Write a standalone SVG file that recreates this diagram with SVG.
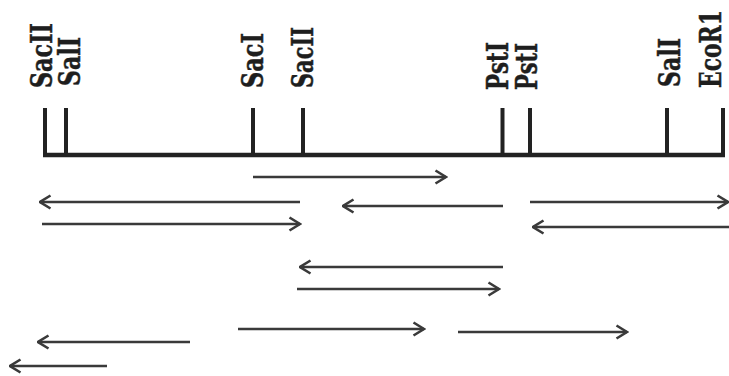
<svg xmlns="http://www.w3.org/2000/svg" width="729" height="376" viewBox="0 0 729 376">
<style>
.lbl{font-family:"DejaVu Serif","Liberation Serif",serif;font-weight:bold;font-size:30px;fill:#1e1e1e;stroke:#1e1e1e;stroke-width:0.5}
.tick{stroke:#222;stroke-width:4;fill:none}
.axis{stroke:#222;stroke-width:4.5;fill:none}
.arr{stroke:#3a3a3a;stroke-width:2.4;fill:none;marker-end:url(#head)}
</style>
<defs>
<marker id="head" markerUnits="userSpaceOnUse" viewBox="0 0 14 16" refX="12.5" refY="8" markerWidth="14" markerHeight="16" orient="auto">
<path d="M2,1.5 L12.5,8 L2,14.5" fill="none" stroke="#3a3a3a" stroke-width="2.6" stroke-linejoin="miter"/>
</marker>
</defs>
<rect width="729" height="376" fill="#fff"/>
<g id="map">
<path class="axis" d="M43,155 H725"/>
</g>
<g id="site-sacII-1"><path class="tick" d="M45,108 V155"/><text class="lbl" transform="translate(52,88) rotate(-90)" textLength="65" lengthAdjust="spacingAndGlyphs">SacII</text></g>
<g id="site-salI-1"><path class="tick" d="M66,108 V155"/><text class="lbl" transform="translate(80,86) rotate(-90)" textLength="49" lengthAdjust="spacingAndGlyphs">SalI</text></g>
<g id="site-sacI"><path class="tick" d="M253,108 V155"/><text class="lbl" transform="translate(263,88) rotate(-90)" textLength="55" lengthAdjust="spacingAndGlyphs">SacI</text></g>
<g id="site-sacII-2"><path class="tick" d="M303,108 V155"/><text class="lbl" transform="translate(313,88) rotate(-90)" textLength="61" lengthAdjust="spacingAndGlyphs">SacII</text></g>
<g id="site-pstI-1"><path class="tick" d="M502.5,108 V155"/><text class="lbl" transform="translate(508,90) rotate(-90)" textLength="48" lengthAdjust="spacingAndGlyphs">PstI</text></g>
<g id="site-pstI-2"><path class="tick" d="M530,108 V155"/><text class="lbl" transform="translate(537,90) rotate(-90)" textLength="47" lengthAdjust="spacingAndGlyphs">PstI</text></g>
<g id="site-salI-2"><path class="tick" d="M667,108 V155"/><text class="lbl" transform="translate(680,87) rotate(-90)" textLength="49" lengthAdjust="spacingAndGlyphs">SalI</text></g>
<g id="site-ecoR1"><path class="tick" d="M723,108 V155"/><text class="lbl" transform="translate(721,88) rotate(-90)" textLength="78" lengthAdjust="spacingAndGlyphs">EcoR1</text></g>
<g id="connectors">
<path class="arr" d="M253,177 H446"/>
<path class="arr" d="M300,202 H40"/>
<path class="arr" d="M503,206 H343"/>
<path class="arr" d="M530,202 H728"/>
<path class="arr" d="M42,224 H300"/>
<path class="arr" d="M729,227 H533"/>
<path class="arr" d="M503,267 H300"/>
<path class="arr" d="M297,289 H499"/>
<path class="arr" d="M238,329 H424"/>
<path class="arr" d="M458,332 H627"/>
<path class="arr" d="M190,342 H38"/>
<path class="arr" d="M107,366 H10"/>
</g>
</svg>
